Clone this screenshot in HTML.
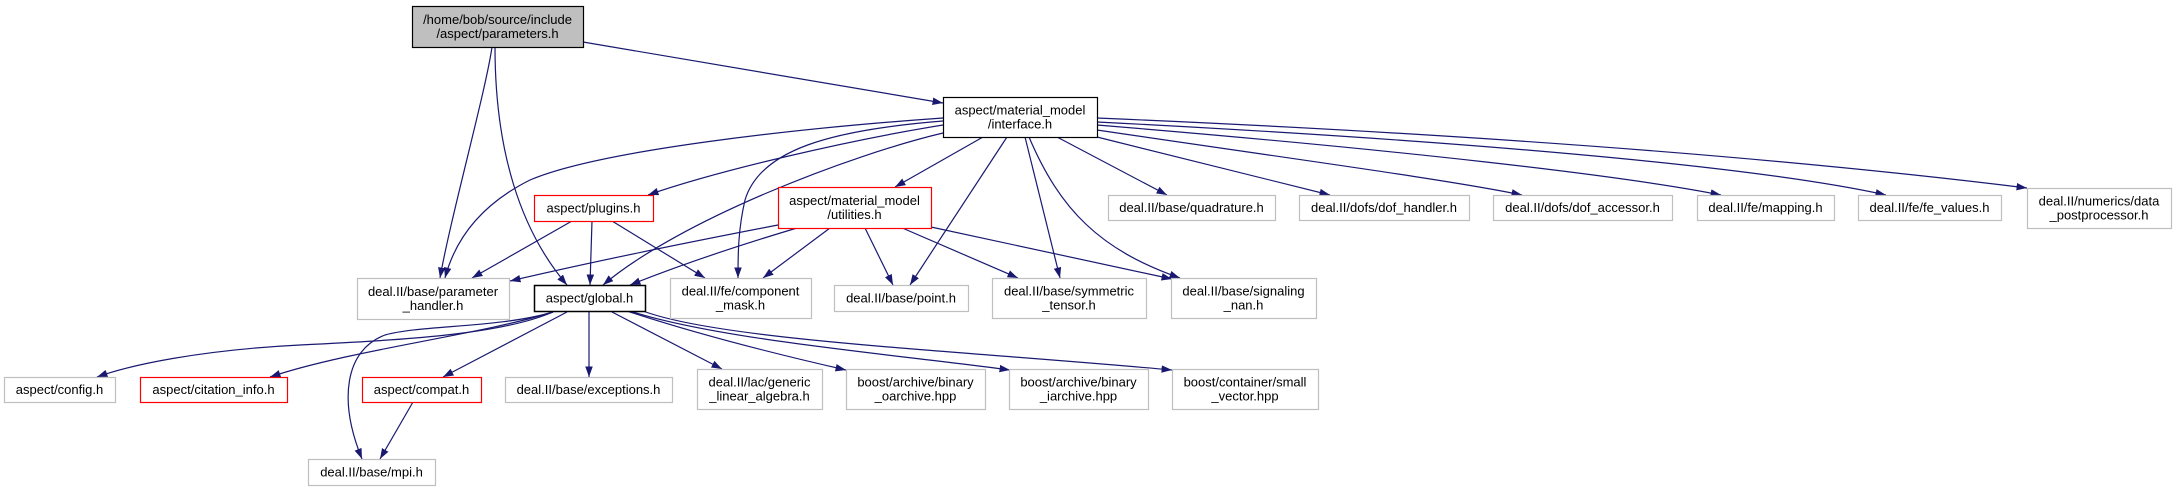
<!DOCTYPE html>
<html>
<head>
<meta charset="utf-8">
<style>
  html, body { margin: 0; padding: 0; background: #ffffff; }
  svg { display: block; }
  text { font-family: "Liberation Sans", Arial, sans-serif; font-size: 13px; fill: #000; text-anchor: middle; }
</style>
</head>
<body>
<svg width="2176" height="491" viewBox="0 0 2176 491" xmlns="http://www.w3.org/2000/svg">
  <defs>
    <marker id="a" markerUnits="userSpaceOnUse" markerWidth="11" markerHeight="8" refX="10.5" refY="3.75" orient="auto">
      <path d="M0,0 L10.5,3.75 L0,7.5 z" fill="#191970"/>
    </marker>
  </defs>
  <rect x="0" y="0" width="2176" height="491" fill="#ffffff"/>

  <!-- edges -->
  <g fill="none" stroke="#191970" stroke-width="1.2" marker-end="url(#a)">
    <!-- parameters.h -->
    <path d="M583,42 L943,103"/>
    <path d="M492,47 C486,90 450,220 440,278"/>
    <path d="M495,47 C495,150 520,230 567,285"/>
    <!-- interface.h -->
    <path d="M943,118 C800,128 600,150 530,180 C480,205 455,240 445,278"/>
    <path d="M943,125 C850,140 720,170 648,195"/>
    <path d="M943,133 C850,155 680,220 603,285"/>
    <path d="M943,121 C830,130 760,150 745,200 C738,230 738,255 738,278"/>
    <path d="M983,137 L895,187"/>
    <path d="M1007,137 L910,285"/>
    <path d="M1025,137 L1060,278"/>
    <path d="M1029,137 C1060,210 1100,250 1180,278"/>
    <path d="M1057,137 L1167,195"/>
    <path d="M1097,137 L1330,195"/>
    <path d="M1097,130 C1300,160 1450,180 1522,195"/>
    <path d="M1097,125 C1400,150 1620,175 1721,195"/>
    <path d="M1097,122 C1450,140 1750,165 1886,195"/>
    <path d="M1097,118 C1500,135 1800,160 2027,188"/>
    <!-- plugins.h -->
    <path d="M572,221 L472,278"/>
    <path d="M592,221 L590,285"/>
    <path d="M612,221 L705,278"/>
    <!-- utilities.h -->
    <path d="M778,225 C700,240 600,260 510,281"/>
    <path d="M797,228 C740,245 680,265 630,285"/>
    <path d="M830,228 L763,278"/>
    <path d="M865,228 L893,285"/>
    <path d="M900,227 L1018,278"/>
    <path d="M931,227 L1172,279"/>
    <!-- global.h -->
    <path d="M553,312 C500,335 400,340 300,345 C200,350 130,365 97,377"/>
    <path d="M553,312 C480,335 350,350 270,377"/>
    <path d="M553,312 C500,328 420,325 385,335 C345,350 338,400 362,459"/>
    <path d="M567,312 L443,377"/>
    <path d="M589,312 L589,377"/>
    <path d="M612,312 L722,369"/>
    <path d="M627,311 C700,335 780,355 846,370"/>
    <path d="M630,311 C720,340 900,355 1010,370"/>
    <path d="M643,311 C720,340 950,350 1172,370"/>
    <!-- compat.h -->
    <path d="M413,402 L380,459"/>
  </g>

  <!-- nodes -->
  <g stroke-width="1.2">
    <rect x="412.5" y="6.5" width="171" height="41" fill="#bfbfbf" stroke="#000"/>
    <rect x="943.5" y="97.5" width="154" height="40" fill="#fff" stroke="#000"/>
    <rect x="534.5" y="195.5" width="119" height="26" fill="#fff" stroke="#ff0000"/>
    <rect x="778.5" y="187.5" width="153" height="41" fill="#fff" stroke="#ff0000"/>
    <rect x="1108.5" y="195.5" width="167" height="25" fill="#fff" stroke="#bfbfbf"/>
    <rect x="1299.5" y="195.5" width="170" height="25" fill="#fff" stroke="#bfbfbf"/>
    <rect x="1493.5" y="195.5" width="179" height="25" fill="#fff" stroke="#bfbfbf"/>
    <rect x="1697.5" y="195.5" width="137" height="25" fill="#fff" stroke="#bfbfbf"/>
    <rect x="1858.5" y="195.5" width="143" height="25" fill="#fff" stroke="#bfbfbf"/>
    <rect x="2027.5" y="188.5" width="144" height="40" fill="#fff" stroke="#bfbfbf"/>
    <rect x="357.5" y="278.5" width="152" height="41" fill="#fff" stroke="#bfbfbf"/>
    <rect x="534.5" y="285.5" width="111" height="26" fill="#fff" stroke="#000" stroke-width="1.5"/>
    <rect x="670.5" y="278.5" width="141" height="40" fill="#fff" stroke="#bfbfbf"/>
    <rect x="834.5" y="285.5" width="134" height="26" fill="#fff" stroke="#bfbfbf"/>
    <rect x="992.5" y="278.5" width="154" height="40" fill="#fff" stroke="#bfbfbf"/>
    <rect x="1171.5" y="278.5" width="145" height="40" fill="#fff" stroke="#bfbfbf"/>
    <rect x="4.5" y="377.5" width="111" height="25" fill="#fff" stroke="#bfbfbf"/>
    <rect x="140.5" y="377.5" width="147" height="25" fill="#fff" stroke="#ff0000"/>
    <rect x="362.5" y="377.5" width="119" height="25" fill="#fff" stroke="#ff0000"/>
    <rect x="505.5" y="377.5" width="167" height="25" fill="#fff" stroke="#bfbfbf"/>
    <rect x="697.5" y="369.5" width="125" height="40" fill="#fff" stroke="#bfbfbf"/>
    <rect x="846.5" y="369.5" width="139" height="40" fill="#fff" stroke="#bfbfbf"/>
    <rect x="1009.5" y="369.5" width="139" height="40" fill="#fff" stroke="#bfbfbf"/>
    <rect x="1172.5" y="369.5" width="146" height="40" fill="#fff" stroke="#bfbfbf"/>
    <rect x="308.5" y="459.5" width="127" height="26" fill="#fff" stroke="#bfbfbf"/>
  </g>

  <!-- labels -->
  <text x="497.5" y="24">/home/bob/source/include</text>
  <text x="497.5" y="38">/aspect/parameters.h</text>

  <text x="1020" y="114.5">aspect/material_model</text>
  <text x="1020" y="128.5">/interface.h</text>

  <text x="593.5" y="212.5">aspect/plugins.h</text>

  <text x="854.5" y="205">aspect/material_model</text>
  <text x="854.5" y="219">/utilities.h</text>

  <text x="1191.5" y="212">deal.II/base/quadrature.h</text>
  <text x="1384" y="212">deal.II/dofs/dof_handler.h</text>
  <text x="1582.5" y="212">deal.II/dofs/dof_accessor.h</text>
  <text x="1765.5" y="212">deal.II/fe/mapping.h</text>
  <text x="1929.5" y="212">deal.II/fe/fe_values.h</text>

  <text x="2099" y="205.5">deal.II/numerics/data</text>
  <text x="2099" y="219.5">_postprocessor.h</text>

  <text x="433" y="296">deal.II/base/parameter</text>
  <text x="433" y="310">_handler.h</text>

  <text x="589.5" y="302.5">aspect/global.h</text>

  <text x="740.5" y="295.5">deal.II/fe/component</text>
  <text x="740.5" y="309.5">_mask.h</text>

  <text x="901" y="302.5">deal.II/base/point.h</text>

  <text x="1069" y="295.5">deal.II/base/symmetric</text>
  <text x="1069" y="309.5">_tensor.h</text>

  <text x="1243.5" y="295.5">deal.II/base/signaling</text>
  <text x="1243.5" y="309.5">_nan.h</text>

  <text x="59.5" y="394">aspect/config.h</text>
  <text x="213.5" y="394">aspect/citation_info.h</text>
  <text x="421.5" y="394">aspect/compat.h</text>
  <text x="588.5" y="394">deal.II/base/exceptions.h</text>

  <text x="759.5" y="386.5">deal.II/lac/generic</text>
  <text x="759.5" y="400.5">_linear_algebra.h</text>

  <text x="915.5" y="386.5">boost/archive/binary</text>
  <text x="915.5" y="400.5">_oarchive.hpp</text>

  <text x="1078.5" y="386.5">boost/archive/binary</text>
  <text x="1078.5" y="400.5">_iarchive.hpp</text>

  <text x="1245" y="386.5">boost/container/small</text>
  <text x="1245" y="400.5">_vector.hpp</text>

  <text x="371.5" y="476.5">deal.II/base/mpi.h</text>
</svg>
</body>
</html>
